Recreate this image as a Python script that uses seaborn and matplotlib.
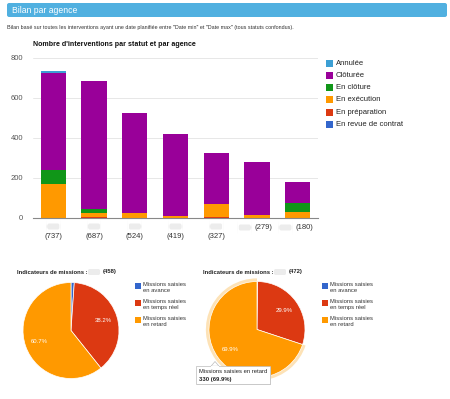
import matplotlib
matplotlib.use("Agg")
import matplotlib.pyplot as plt
import seaborn as sns
import pandas as pd
import numpy as np
from matplotlib.patches import Rectangle, FancyBboxPatch, Polygon

sns.set_theme(style="white")
plt.rcParams['font.family'] = ['Liberation Sans', 'DejaVu Sans']

# ---------------- data ----------------
agences = ["A1", "A2", "A3", "A4", "A5", "A6", "A7"]
totaux = ["(737)", "(687)", "(524)", "(419)", "(327)", "(279)", "(180)"]
statuts = ["Annulée", "Clôturée", "En clôture", "En exécution",
           "En préparation", "En revue de contrat"]
annulee = [10, 2, 0, 0, 0, 0, 0]
cloturee = [489, 640, 499, 407, 255, 264, 105]
en_cloture = [70, 22, 0, 0, 0, 0, 45]
en_execution = [168, 17, 25, 12, 67, 15, 30]
en_preparation = [0, 6, 0, 0, 5, 0, 0]
en_revue = [0, 0, 0, 0, 0, 0, 0]
couleurs = ["#3c9fd4", "#990099", "#109618", "#ff9900", "#dc3912", "#3366cc"]

pie_labels = ["Missions saisies\nen avance", "Missions saisies\nen temps réel",
              "Missions saisies\nen retard"]
pie_colors = ["#3366cc", "#dc3912", "#ff9900"]
pie1_values = [5, 175, 278]
pie2_values = [1, 141, 330]
pie1_total = "(458)"
pie2_total = "(472)"

W, H = 450, 399
fig = plt.figure(figsize=(W / 100, H / 100), dpi=100)
fig.patch.set_facecolor("white")

def fx(px):
    return px / W

def fy(py):
    return 1 - py / H

# ---------------- header ----------------
fig.add_artist(FancyBboxPatch((fx(7), fy(17)), fx(440), 14 / H,
                              boxstyle="round,pad=0,rounding_size=0.005",
                              transform=fig.transFigure, facecolor="#50b0e0",
                              edgecolor="none"))
fig.text(fx(12), fy(10.5), "Bilan par agence", color="white", fontsize=6.2,
         va="center", ha="left")
fig.text(fx(7), fy(28), "Bilan basé sur toutes les interventions ayant une date planifiée "
         "entre \"Date min\" et \"Date max\" (tous statuts confondus).",
         fontsize=3.9, color="#333333", va="center", ha="left")

# ---------------- stacked bar chart ----------------
ax = fig.add_axes([fx(33), fy(218), fx(285), 160 / H])
layers_bottom_up = [en_revue, en_preparation, en_execution, en_cloture, cloturee, annulee]
colors_bottom_up = couleurs[::-1]
cum = np.cumsum(np.array(layers_bottom_up), axis=0)
for i in range(len(layers_bottom_up) - 1, -1, -1):
    df = pd.DataFrame({"agence": agences, "valeur": cum[i]})
    sns.barplot(data=df, x="agence", y="valeur", color=colors_bottom_up[i],
                saturation=1, width=0.62, ax=ax, linewidth=0, zorder=3)

ax.set_xlim(-0.5, 6.5)
ax.set_ylim(0, 800)
ax.set_yticks([0, 200, 400, 600, 800])
ax.set_yticklabels(["0", "200", "400", "600", "800"], fontsize=5.5, color="#555555")
ax.tick_params(axis="y", length=0, pad=7)
ax.set_xticks([])
ax.set_xlabel("")
ax.set_ylabel("")
for s in ["top", "right", "left"]:
    ax.spines[s].set_visible(False)
ax.spines["bottom"].set_color("#888888")
ax.spines["bottom"].set_linewidth(0.8)
ax.spines["bottom"].set_zorder(5)
for v in [200, 400, 600, 800]:
    ax.axhline(v, color="#e3e3e3", lw=0.6, zorder=0)

tr = ax.get_xaxis_transform()
px_y = 1 / 160.0  # one pixel in axes fraction (vertical)
for i, t in enumerate(totaux):
    if i < 5:
        ax.add_patch(FancyBboxPatch((i - 0.17, -11.5 * px_y), 0.34, 6 * px_y,
                                    boxstyle="round,pad=0,rounding_size=0.06",
                                    transform=tr, facecolor="#ececec", edgecolor="none",
                                    clip_on=False))
        ax.text(i, -18.7 * px_y, t, transform=tr, ha="center", va="center",
                fontsize=5.5, color="#333333", clip_on=False)
    else:
        ax.add_patch(FancyBboxPatch((i - 0.47, -12.5 * px_y), 0.34, 6 * px_y,
                                    boxstyle="round,pad=0,rounding_size=0.06",
                                    transform=tr, facecolor="#ececec", edgecolor="none",
                                    clip_on=False))
        ax.text(i - 0.05, -9.3 * px_y, t, transform=tr, ha="left", va="center",
                fontsize=5.5, color="#333333", clip_on=False)

fig.text(fx(33), fy(45), "Nombre d'interventions par statut et par agence",
         fontsize=5.1, fontweight="bold", color="#111111", va="center", ha="left")

# legend (bar chart)
for k, (lab, col) in enumerate(zip(statuts, couleurs)):
    yc = 63.3 + k * 12.2
    fig.add_artist(Rectangle((fx(326), fy(yc + 3.5)), 7 / W, 7 / H,
                             transform=fig.transFigure, facecolor=col, edgecolor="none"))
    fig.text(fx(336), fy(yc), lab, fontsize=5.5, color="#222222", va="center", ha="left")

# ---------------- pies ----------------
def pie_axes(cx, cy, r, lim=1.1):
    size = 2 * r * lim
    a = fig.add_axes([fx(cx - size / 2), fy(cy + size / 2), size / W, size / H])
    return a

def autopct(p):
    return "" if p < 5 else f"{p:.1f}%"

def draw_pie(cx, cy, values, highlight=None):
    a = pie_axes(cx, cy, 48)
    if highlight is not None:
        hcols = ["none"] * len(values)
        hcols[highlight] = "#fde2b6"
        a.pie(values, colors=hcols, startangle=90, counterclock=False, radius=1.065,
              wedgeprops=dict(linewidth=0))
    a.pie(values, colors=pie_colors, startangle=90, counterclock=False, radius=1.0,
          autopct=autopct, pctdistance=0.7,
          textprops=dict(color="white", fontsize=4.3),
          wedgeprops=dict(linewidth=0.5, edgecolor="white"))
    a.set_xlim(-1.1, 1.1)
    a.set_ylim(-1.1, 1.1)
    a.set_aspect("equal")
    return a

draw_pie(71, 330.5, pie1_values)
draw_pie(257, 329.5, pie2_values, highlight=2)

def pie_title(x, blob_x, total, total_x):
    fig.text(fx(x), fy(272), "Indicateurs de missions :", fontsize=4.2,
             fontweight="bold", color="#222222", va="center", ha="left")
    fig.add_artist(FancyBboxPatch((fx(blob_x), fy(275)), 12 / W, 6 / H,
                                  boxstyle="round,pad=0,rounding_size=0.004",
                                  transform=fig.transFigure, facecolor="#ececec",
                                  edgecolor="none"))
    fig.text(fx(total_x), fy(272), total, fontsize=4.2, fontweight="bold",
             color="#222222", va="center", ha="left")

pie_title(16.7, 88, pie1_total, 102.7)
pie_title(203, 274, pie2_total, 289)

def pie_legend(sq_x, tx):
    for k, (lab, col) in enumerate(zip(pie_labels, pie_colors)):
        y1 = [285.7, 302.7, 320.0][k]
        fig.add_artist(Rectangle((fx(sq_x), fy(y1 + 2.8)), 5.6 / W, 5.6 / H,
                                 transform=fig.transFigure, facecolor=col,
                                 edgecolor="none"))
        fig.text(fx(tx), fy(y1 - 3.6), lab, fontsize=4.2, color="#333333",
                 va="top", ha="left", linespacing=1.25)

pie_legend(135, 143.3)
pie_legend(322.3, 330)

# tooltip
fig.add_artist(Rectangle((fx(196.6), fy(384.6)), 74 / W, 18 / H,
                         transform=fig.transFigure, facecolor="#d8d8d8",
                         edgecolor="none", zorder=9))
fig.add_artist(Rectangle((fx(195.7), fy(384)), 74 / W, 18 / H,
                         transform=fig.transFigure, facecolor="white",
                         edgecolor="#bbbbbb", linewidth=0.5, zorder=10))
fig.add_artist(Polygon([(fx(211), fy(366.2)), (fx(215), fy(361.5)), (fx(219), fy(366.2))],
                       closed=True, transform=fig.transFigure, facecolor="white",
                       edgecolor="#bbbbbb", linewidth=0.5, zorder=10))
fig.add_artist(Rectangle((fx(211.4), fy(366.6)), 7.2 / W, 1 / H,
                         transform=fig.transFigure, facecolor="white",
                         edgecolor="none", zorder=11))
fig.text(fx(199.3), fy(371.7), "Missions saisies en retard", fontsize=4.25,
         color="#222222", va="center", ha="left", zorder=12)
fig.text(fx(199.3), fy(379), f"{pie2_values[2]} ({pie2_values[2] / sum(pie2_values) * 100:.1f}%)",
         fontsize=4.25, fontweight="bold", color="#222222", va="center", ha="left", zorder=12)

fig.savefig("out.png", dpi=100, facecolor="white")
